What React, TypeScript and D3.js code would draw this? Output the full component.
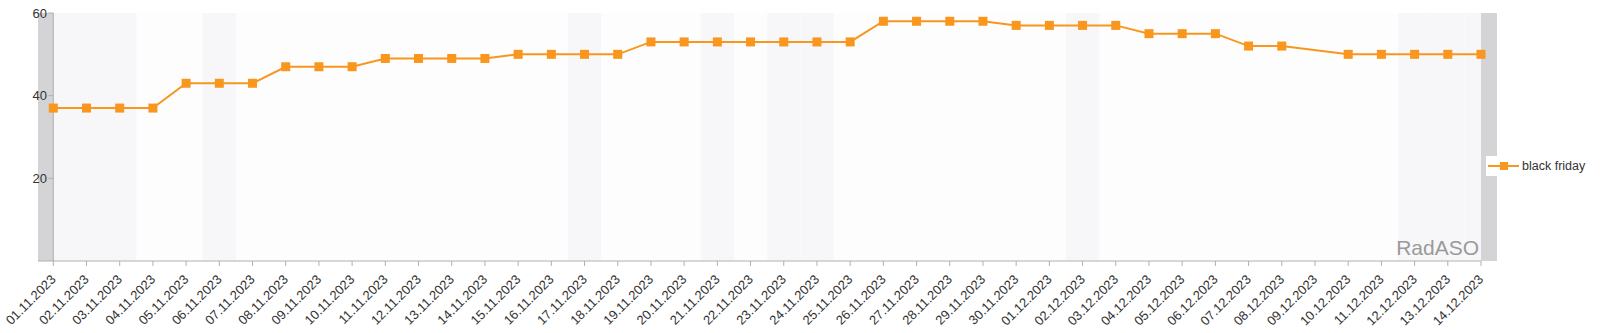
import React from "react";
import * as d3 from "d3";

const dates: string[] = [
  "01.11.2023","02.11.2023","03.11.2023","04.11.2023","05.11.2023","06.11.2023","07.11.2023",
  "08.11.2023","09.11.2023","10.11.2023","11.11.2023","12.11.2023","13.11.2023","14.11.2023",
  "15.11.2023","16.11.2023","17.11.2023","18.11.2023","19.11.2023","20.11.2023","21.11.2023",
  "22.11.2023","23.11.2023","24.11.2023","25.11.2023","26.11.2023","27.11.2023","28.11.2023",
  "29.11.2023","30.11.2023","01.12.2023","02.12.2023","03.12.2023","04.12.2023","05.12.2023",
  "06.12.2023","07.12.2023","08.12.2023","09.12.2023","10.12.2023","11.12.2023","12.12.2023",
  "13.12.2023","14.12.2023",
];

const blackFriday: (number | null)[] = [
  37,37,37,37,43,43,43,
  47,47,47,49,49,49,49,
  50,50,50,50,53,53,53,
  53,53,53,53,58,58,58,
  58,57,57,57,57,55,55,
  55,52,52,null,50,50,50,
  50,50,
];

const shadedDays: string[] = [
  "01.11.2023","02.11.2023","03.11.2023","06.11.2023","17.11.2023","21.11.2023",
  "23.11.2023","24.11.2023","02.12.2023","12.12.2023","13.12.2023","14.12.2023",
];

const yTicks: number[] = [20, 40, 60];
const seriesName = "black friday";

export default function App() {
  const left = 53.3, right = 1481, top = 13, bottom = 261;
  const x = d3.scalePoint<string>().domain(dates).range([left, right]);
  const y = d3.scaleLinear().domain([0, 60]).range([bottom, top]);
  const step = x.step();
  const color = "#f8961e";

  const pts = dates
    .map((d, i) => ({ d, v: blackFriday[i] }))
    .filter((p) => p.v !== null) as { d: string; v: number }[];
  const line = d3
    .line<{ d: string; v: number }>()
    .x((p) => x(p.d)!)
    .y((p) => y(p.v));

  const font = "'Liberation Sans', Arial, sans-serif";

  return (
    <svg
      width={1600}
      height={333}
      style={{ position: "absolute", left: 0, top: 0, fontFamily: font }}
    >
      <rect x={0} y={0} width={1600} height={333} fill="#ffffff" />
      <rect x={left} y={top} width={right - left} height={bottom - top} fill="#fefdfe" />
      {shadedDays.map((d) => {
        const cx = x(d)!;
        const x0 = Math.max(left, cx - step / 2);
        const x1 = Math.min(right, cx + step / 2);
        return (
          <rect key={d} x={x0} y={top} width={x1 - x0} height={bottom - top} fill="#f7f7f9" />
        );
      })}
      <rect x={38} y={top} width={left - 38} height={bottom - top} fill="#d4d4d6" />
      <rect x={right} y={top} width={16} height={bottom - top} fill="#d4d4d6" />

      {/* y axis */}
      <line x1={left} x2={left} y1={top} y2={bottom} stroke="#b0b0b0" strokeWidth={1} />
      {yTicks.map((t) => (
        <g key={t}>
          <line x1={left - 5} x2={left} y1={y(t)} y2={y(t)} stroke="#b0b0b0" />
          <text x={47} y={y(t)} dy="0.35em" textAnchor="end" fontSize={13} fill="#333">
            {t}
          </text>
        </g>
      ))}

      {/* x axis */}
      <line x1={38} x2={right} y1={bottom} y2={bottom} stroke="#b0b0b0" strokeWidth={1} />
      {dates.map((d) => (
        <g key={d}>
          <line x1={x(d)!} x2={x(d)!} y1={bottom} y2={bottom + 5} stroke="#b0b0b0" />
          <text
            transform={`translate(${x(d)!},${bottom + 16}) rotate(-45)`}
            textAnchor="end"
            fontSize={13}
            fill="#333"
            dy="0.35em"
          >
            {d}
          </text>
        </g>
      ))}

      {/* watermark */}
      <text x={1479} y={255} textAnchor="end" fontSize={21} fill="#9a9a9a">
        RadASO
      </text>

      {/* series */}
      <path d={line(pts)!} fill="none" stroke={color} strokeWidth={2} />
      {pts.map((p) => (
        <rect
          key={p.d}
          x={x(p.d)! - 4.5}
          y={y(p.v) - 4.5}
          width={9}
          height={9}
          fill={color}
        />
      ))}

      {/* legend */}
      <rect x={1486} y={156} width={114} height={20} fill="#ffffff" />
      <line x1={1488} x2={1519} y1={166} y2={166} stroke={color} strokeWidth={2} />
      <rect x={1500} y={162} width={8} height={8} fill={color} />
      <text x={1522} y={166} dy="0.35em" fontSize={12.5} fill="#333">
        {seriesName}
      </text>
    </svg>
  );
}
